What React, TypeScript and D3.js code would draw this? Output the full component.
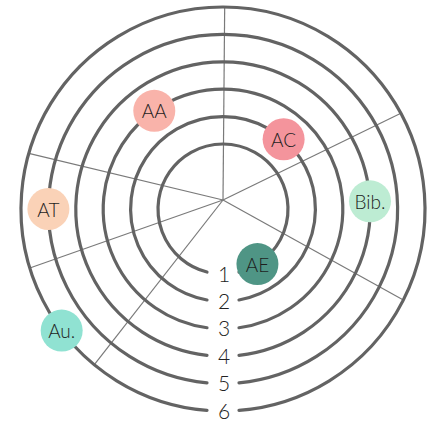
import React from "react";
import * as d3 from "d3";

// Ring levels (1 = innermost)
const levels = [1, 2, 3, 4, 5, 6];
// Items placed on the rings
const items = ["AA", "AC", "Bib.", "AE", "Au.", "AT"];
const itemRanks = [3, 2, 4, 1, 6, 5];
const itemAngles = [325, 41, 87, 148, 233, 270]; // degrees clockwise from top
const itemColors = ["#f9b3aa", "#f4949c", "#bdecd3", "#4f9585", "#90e2d2", "#fad2b7"];
// Spoke directions (degrees clockwise from top)
const spokeAngles = [0.5, 64, 119, 218, 250.6, 283.5];

const W = 432;
const H = 423;
const cx = 223;
const cy = 209;
const spokeCx = 223;
const spokeCy = 200;

export default function App() {
  const r = d3.scaleLinear().domain([1, 6]).range([65, 202]);
  const gapHalf = 16;
  const toRad = (deg: number) => (deg * Math.PI) / 180;

  const ringArc = (lv: number) => {
    const rad = r(lv);
    const d = Math.asin(gapHalf / rad);
    const p = d3.path();
    const a0 = Math.PI / 2 + d;
    const a1 = Math.PI / 2 - d + 2 * Math.PI;
    p.arc(cx, cy, rad, a0, a1, false);
    return p.toString();
  };

  const polar = (deg: number, rad: number, ox: number, oy: number) => [
    ox + rad * Math.sin(toRad(deg)),
    oy - rad * Math.cos(toRad(deg)),
  ];

  const spokeEnd = (deg: number) => {
    const ux = Math.sin(toRad(deg));
    const uy = -Math.cos(toRad(deg));
    const R = r(6);
    const dx = spokeCx - cx;
    const dy = spokeCy - cy;
    const b = dx * ux + dy * uy;
    const c = dx * dx + dy * dy - R * R;
    const t = -b + Math.sqrt(b * b - c);
    return [spokeCx + ux * t, spokeCy + uy * t];
  };

  const font = "Lato, 'Noto Sans', 'DejaVu Sans', sans-serif";

  return (
    <svg width={W} height={H} style={{ display: "block", position: "absolute", left: 0, top: 0 }}>
      <rect width={W} height={H} fill="#ffffff" />
      {spokeAngles.map((a, i) => {
        const [x2, y2] = spokeEnd(a);
        return (
          <line key={"s" + i} x1={spokeCx} y1={spokeCy} x2={x2} y2={y2} stroke="#7a7a7a" strokeWidth={1.2} />
        );
      })}
      {levels.map((lv) => (
        <path key={"r" + lv} d={ringArc(lv)} fill="none" stroke="#636363" strokeWidth={3.2} strokeLinecap="round" />
      ))}
      {levels.map((lv) => (
        <text
          key={"l" + lv}
          x={224}
          y={cy + r(lv) - 1}
          textAnchor="middle"
          dominantBaseline="central"
          fontFamily={font}
          fontWeight={300}
          fontSize={21}
          fill="#222"
        >
          {lv}
        </text>
      ))}
      {items.map((name, i) => {
        const [x, y] = polar(itemAngles[i], r(itemRanks[i]), cx, cy);
        return (
          <g key={"i" + i}>
            <circle cx={x} cy={y} r={21} fill={itemColors[i]} />
            <text
              x={x}
              y={y}
              textAnchor="middle"
              dominantBaseline="central"
              fontFamily={font}
              fontWeight={300}
              fontSize={19}
              fill="#1e1e1e"
            >
              {name}
            </text>
          </g>
        );
      })}
    </svg>
  );
}
